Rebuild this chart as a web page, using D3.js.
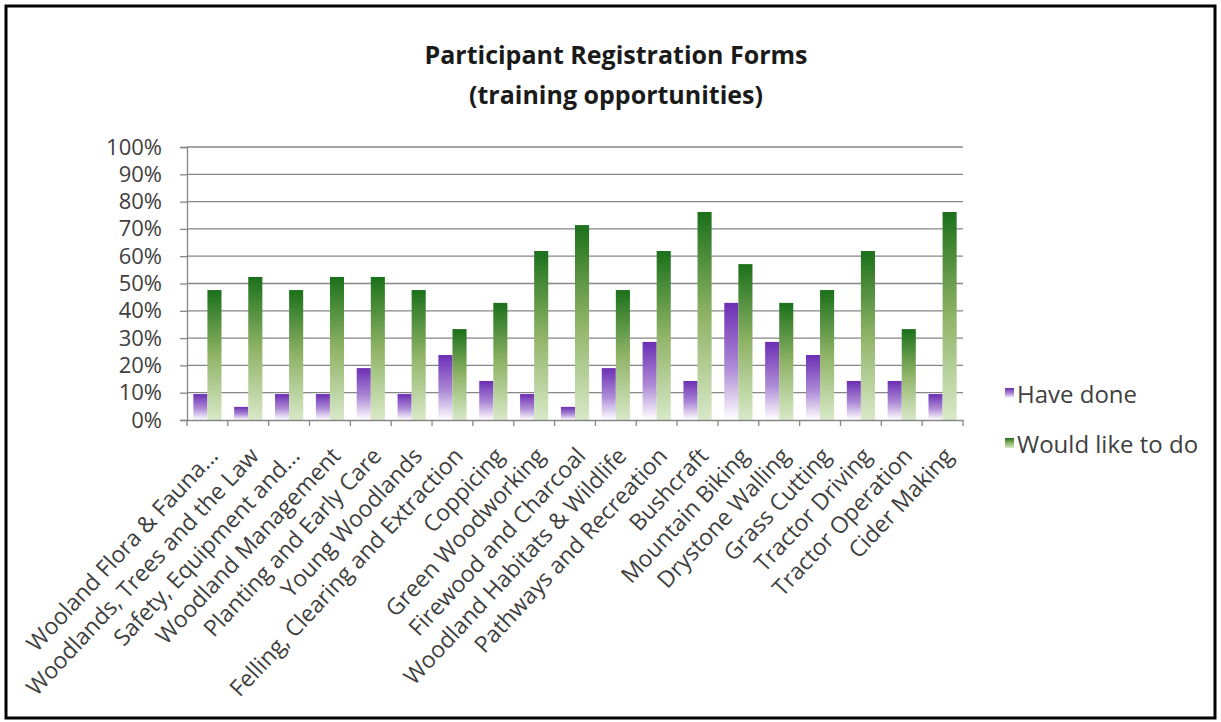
<!DOCTYPE html>
<html>
<head>
  <meta charset="utf-8">
  <title>Participant Registration Forms</title>
  <script src="https://cdn.jsdelivr.net/npm/d3@7"></script>
  <style>
    body { margin: 0; background: #fff; }
    svg { font-family: "Open Sans", sans-serif; }
    .title { font-weight: bold; font-size: 25px; fill: #1a1a1a; text-anchor: middle; }
    .tick text { fill: #404040; }
    .grid line { stroke: #868686; stroke-width: 1.3; }
    .legend text { font-size: 24px; fill: #404040; }
  </style>
</head>
<body>
<svg id="chart"></svg>
<script>
var categories = ['Wooland Flora & Fauna...', 'Woodlands, Trees and the Law', 'Safety, Equipment and...',
  'Woodland Management', 'Planting and Early Care', 'Young Woodlands', 'Felling, Clearing and Extraction',
  'Coppicing', 'Green Woodworking', 'Firewood and Charcoal', 'Woodland Habitats & Wildlife',
  'Pathways and Recreation', 'Bushcraft', 'Mountain Biking', 'Drystone Walling', 'Grass Cutting',
  'Tractor Driving', 'Tractor Operation', 'Cider Making'];

// share of 21 participants
var haveDone =    [0.095, 0.048, 0.095, 0.095, 0.190, 0.095, 0.238, 0.143, 0.095, 0.048,
                   0.190, 0.286, 0.143, 0.429, 0.286, 0.238, 0.143, 0.143, 0.095];
var wouldLikeTo = [0.476, 0.524, 0.476, 0.524, 0.524, 0.476, 0.333, 0.429, 0.619, 0.714,
                   0.476, 0.619, 0.762, 0.571, 0.429, 0.476, 0.619, 0.333, 0.762];

var seriesNames = ['Have done', 'Would like to do'];
var yTicks = [0, 0.1, 0.2, 0.3, 0.4, 0.5, 0.6, 0.7, 0.8, 0.9, 1];

var width = 1221, height = 722;
var plotLeft = 187, plotRight = 963, plotTop = 147, plotBottom = 420;

var svg = d3.select('#chart').attr('width', width).attr('height', height);

// gradients
var defs = svg.append('defs');
var gp = defs.append('linearGradient').attr('id', 'gPurple').attr('x1', 0).attr('y1', 0).attr('x2', 0).attr('y2', 1);
gp.append('stop').attr('offset', '0%').attr('stop-color', '#6c2eb4');
gp.append('stop').attr('offset', '55%').attr('stop-color', '#ad8ad6');
gp.append('stop').attr('offset', '100%').attr('stop-color', '#ffffff');
var gg = defs.append('linearGradient').attr('id', 'gGreen').attr('x1', 0).attr('y1', 0).attr('x2', 0).attr('y2', 1);
gg.append('stop').attr('offset', '0%').attr('stop-color', '#1b701a');
gg.append('stop').attr('offset', '50%').attr('stop-color', '#8fb366');
gg.append('stop').attr('offset', '100%').attr('stop-color', '#d8e9c8');
var fills = ['url(#gPurple)', 'url(#gGreen)'];

// outer frame
svg.append('rect')
  .attr('x', 6).attr('y', 6)
  .attr('width', 1209).attr('height', 712)
  .attr('fill', 'none').attr('stroke', '#000').attr('stroke-width', 3);

svg.append('text').attr('class', 'title').attr('x', 616).attr('y', 64).text('Participant Registration Forms');
svg.append('text').attr('class', 'title').attr('x', 616).attr('y', 104).text('(training opportunities)');

var x = d3.scaleBand().domain(categories).range([plotLeft, plotRight]);
var xs = d3.scaleBand().domain([0, 1]).range([0, x.bandwidth()]).paddingInner(0).paddingOuter(0.45);
var y = d3.scaleLinear().domain([0, 1]).range([plotBottom, plotTop]);

// gridlines
svg.append('g').attr('class', 'grid')
  .selectAll('line').data(yTicks.slice(1)).enter().append('line')
  .attr('x1', plotLeft).attr('x2', plotRight)
  .attr('y1', d => y(d)).attr('y2', d => y(d));

// bars
var series = [haveDone, wouldLikeTo];
series.forEach(function (vals, s) {
  svg.append('g').selectAll('rect')
    .data(vals).enter().append('rect')
    .attr('x', (d, i) => x(categories[i]) + xs(s))
    .attr('y', d => y(d))
    .attr('width', xs.bandwidth())
    .attr('height', d => y(0) - y(d))
    .attr('fill', fills[s]);
});

// y axis
var yAxis = svg.append('g').attr('transform', 'translate(' + plotLeft + ',0)')
  .call(d3.axisLeft(y).tickValues(yTicks).tickFormat(d3.format('.0%')).tickSize(7).tickPadding(18));
yAxis.selectAll('text').style('font-size', '22px').style('font-family', '"Open Sans", sans-serif');
yAxis.selectAll('line, path').attr('stroke', '#868686').attr('stroke-width', 1.3);

// x axis
var xAxis = svg.append('g').attr('transform', 'translate(0,' + plotBottom + ')')
  .call(d3.axisBottom(x).tickSize(0).tickSizeOuter(0));
xAxis.select('path').attr('stroke', '#868686').attr('stroke-width', 1.3);
xAxis.selectAll('.tick text')
  .style('font-size', '23px').style('font-family', '"Open Sans", sans-serif')
  .attr('text-anchor', 'end')
  .attr('transform', 'translate(12,37) rotate(-47)')
  .attr('dy', 0).attr('y', 0);

// category boundary ticks
svg.append('g').selectAll('line')
  .data(categories.concat(['end'])).enter().append('line')
  .attr('x1', (d, i) => plotLeft + i * x.step()).attr('x2', (d, i) => plotLeft + i * x.step())
  .attr('y1', plotBottom).attr('y2', plotBottom + 6)
  .attr('stroke', '#868686').attr('stroke-width', 1.3);

// legend
var legend = svg.append('g').attr('class', 'legend');
seriesNames.forEach(function (name, s) {
  var ly = 397 + s * 50;
  legend.append('rect').attr('x', 1005).attr('y', ly - 9).attr('width', 9).attr('height', 10).attr('fill', fills[s]);
  legend.append('text').attr('x', 1017).attr('y', ly + 6).text(name);
});
</script>
</body>
</html>
